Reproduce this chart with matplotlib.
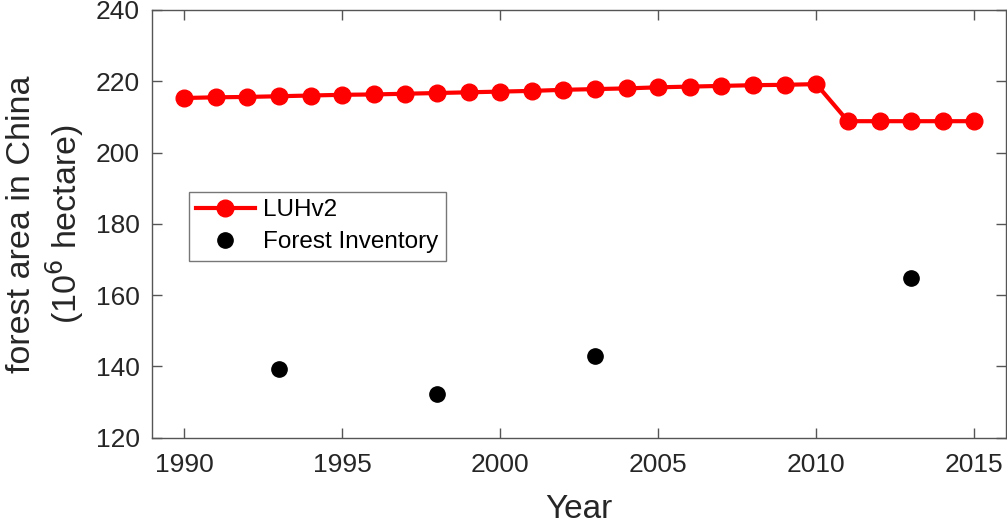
import matplotlib
matplotlib.use("Agg")
import matplotlib.pyplot as plt

plt.rcParams["font.family"] = ["Liberation Sans", "DejaVu Sans"]

# LUHv2 forest area, 10^6 ha
luh_years = list(range(1990, 2016))
luh_area = [215.3, 215.5, 215.6, 215.8, 216.0, 216.2, 216.3, 216.5, 216.7, 216.9,
            217.1, 217.3, 217.6, 217.8, 218.0, 218.3, 218.5, 218.7, 218.9, 219.0,
            219.2, 208.8, 208.8, 208.8, 208.8, 208.8]

# national forest inventory
inv_years = [1993, 1998, 2003, 2013]
inv_area = [139.3, 132.3, 142.8, 164.7]

xticks = [1990, 1995, 2000, 2005, 2010, 2015]
yticks = [120, 140, 160, 180, 200, 220, 240]

TXT = "#262626"
AX = "#555555"

fig = plt.figure(figsize=(10.07, 5.25), dpi=100)
ax = fig.add_axes([0.1514, 0.1663, 0.8476, 0.8147])

ax.plot(luh_years, luh_area, "-o", color="red", lw=3, ms=12, label="LUHv2")
ax.plot(inv_years, inv_area, "o", color="black", ms=11, label="Forest Inventory")

ax.set_xlim(1989, 2016)
ax.set_ylim(120, 240)
ax.set_xticks(xticks)
ax.set_yticks(yticks)
ax.tick_params(direction="in", length=7, width=1, colors=AX, labelcolor=TXT,
               labelsize=19, top=True, right=True)
ax.tick_params(axis="x", pad=11)
ax.tick_params(axis="y", pad=9)
for s in ax.spines.values():
    s.set_color(AX)
    s.set_linewidth(1)

ax.set_xlabel("Year", fontsize=24, color=TXT, labelpad=12)
ax.set_ylabel("forest area in China\n(10$^6$ hectare)", fontsize=24.5, color=TXT,
              labelpad=7, linespacing=1.2)

leg = ax.legend(loc="upper left", bbox_to_anchor=(0.0428, 0.574), borderaxespad=0,
                fontsize=17.5, frameon=True, fancybox=False, handlelength=2.4,
                handletextpad=0.35, borderpad=0.3, labelspacing=0.4)
leg.get_frame().set_edgecolor(AX)
leg.get_frame().set_linewidth(1)
for t in leg.get_texts():
    t.set_color("black")

fig.savefig("out.png", dpi=100, facecolor="white")
